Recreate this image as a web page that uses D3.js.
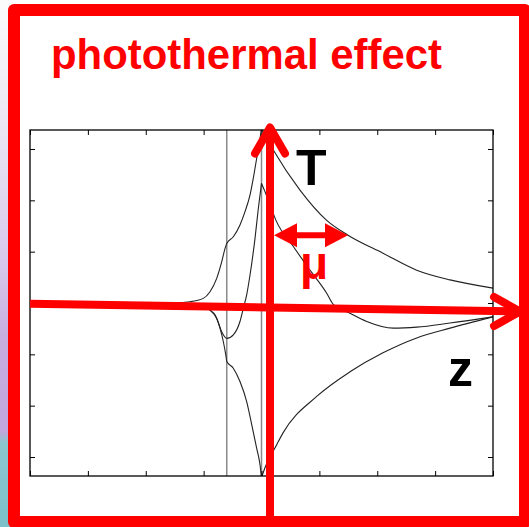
<!DOCTYPE html>
<html>
<head>
<meta charset="utf-8">
<script src="https://cdn.jsdelivr.net/npm/d3@7"></script>
<style>
  html, body { margin: 0; padding: 0; background: #ffffff; }
  svg { display: block; }
</style>
</head>
<body>
<svg id="chart" width="529" height="527"></svg>
<script>
// Temperature profile T(z) across the absorbing layer: envelope maximum,
// envelope minimum and one instantaneous snapshot of the thermal wave.
const xTicks = [-4, -3, -2, -1, 0, 1, 2, 3, 4];
const yTicks = [-3, -2, -1, 0, 1, 2, 3];
const interfaces = [-0.6, 0.0];

// envelope maximum
const upperLeft = [
  [-4, 0], [-2, 0], [-1.5, 0.005], [-1.235, 0.025], [-1.006, 0.09], [-0.89, 0.22],
  [-0.774, 0.48], [-0.688, 0.80], [-0.631, 1.06], [-0.60, 1.16], [-0.487, 1.29],
  [-0.372, 1.52], [-0.285, 1.78], [-0.199, 2.10], [-0.142, 2.43], [-0.083, 2.82],
  [-0.026, 3.20], [0.0, 3.40]
];
const upperRight = [
  [0.0, 3.40], [0.204, 2.98], [0.665, 2.20], [1.127, 1.61], [1.495, 1.32],
  [2.099, 0.97], [2.682, 0.64], [3.257, 0.45], [4.0, 0.29]
];
// envelope minimum
const lowerLeft = [
  [-4, 0], [-2, 0], [-1.5, -0.005], [-1.063, -0.04], [-0.89, -0.14], [-0.803, -0.23],
  [-0.717, -0.49], [-0.66, -0.75], [-0.613, -1.04], [-0.60, -1.14], [-0.487, -1.27],
  [-0.372, -1.53], [-0.256, -1.92], [-0.169, -2.37], [-0.083, -2.83], [-0.026, -3.15],
  [0.0, -3.40]
];
const lowerRight = [
  [0.0, -3.40], [0.06, -3.21], [0.263, -2.76], [0.372, -2.53], [0.954, -1.82],
  [1.529, -1.34], [2.099, -0.97], [2.682, -0.68], [3.257, -0.49], [4.0, -0.27]
];
// snapshot of the thermal wave
const middleLeft = [
  [-4, 0], [-2, 0], [-1.5, -0.005], [-1.063, -0.04], [-0.89, -0.14], [-0.774, -0.30],
  [-0.688, -0.56], [-0.60, -0.69], [-0.487, -0.62], [-0.372, -0.36], [-0.314, -0.10],
  [-0.256, 0.16], [-0.199, 0.54], [-0.112, 1.26], [-0.055, 1.84], [0.0, 2.33]
];
const middleRight = [
  [0.0, 2.33], [0.06, 2.17], [0.147, 1.91], [0.25, 1.61], [0.55, 1.10], [0.838, 0.64],
  [1.127, 0.19], [1.235, -0.02], [1.529, -0.20], [1.818, -0.36], [2.277, -0.49],
  [2.682, -0.47], [3.257, -0.39], [4.0, -0.27]
];

// annotation arrows, in data units
const zAxisArrow = { x0: -4, y0: -0.014, x1: 4.467, y1: -0.165 };
const tAxisArrow = { x: 0.147, y0: -4.5, y1: 3.42 };
const muArrow = { x0: 0.216, x1: 1.495, y: 1.32 };

const svg = d3.select("#chart");
const W = 529, H = 527;

// page background strip and frame
const defs = svg.append("defs");
const grad = defs.append("linearGradient").attr("id", "bg")
  .attr("x1", 0).attr("y1", 0).attr("x2", 0).attr("y2", 1);
[[0, "#fbfbfc"], [0.2, "#eeeaf4"], [0.5, "#d8c8ec"], [0.65, "#c6acdf"],
 [0.82, "#c0a6dc"], [0.84, "#8cc6cf"], [1, "#7cc0c9"]].forEach(([o, c]) =>
  grad.append("stop").attr("offset", o).attr("stop-color", c));
svg.append("rect").attr("x", 0).attr("y", 0).attr("width", W).attr("height", H).attr("fill", "#ffffff");
svg.append("rect").attr("x", 0).attr("y", 0).attr("width", 12).attr("height", H).attr("fill", "url(#bg)");
svg.append("rect").attr("x", 14).attr("y", 10).attr("width", 511).attr("height", 512)
  .attr("fill", "#ffffff").attr("stroke", "#ff0000").attr("stroke-width", 12)
  .attr("stroke-linejoin", "round");

// title
svg.append("text").attr("x", 51).attr("y", 69)
  .attr("font-family", "'Liberation Sans', Arial, sans-serif")
  .attr("font-weight", "bold").attr("font-size", 42).attr("fill", "#ff0000")
  .attr("textLength", 391).attr("lengthAdjust", "spacingAndGlyphs")
  .text("photothermal effect");

// plot area
const pLeft = 30, pRight = 493, pTop = 130, pBottom = 476;
const x = d3.scaleLinear().domain([-4, 4]).range([pLeft, pRight]);
const y = d3.scaleLinear().domain([-3.37, 3.37]).range([pBottom, pTop]);

defs.append("clipPath").attr("id", "plotclip").append("rect")
  .attr("x", pLeft).attr("y", pTop).attr("width", pRight - pLeft).attr("height", pBottom - pTop);

const plot = svg.append("g").attr("clip-path", "url(#plotclip)");
const line = d3.line().x(d => x(d[0])).y(d => y(d[1])).curve(d3.curveMonotoneX);

plot.selectAll("line.iface").data(interfaces).join("line")
  .attr("class", "iface")
  .attr("x1", d => x(d)).attr("x2", d => x(d))
  .attr("y1", pTop).attr("y2", pBottom)
  .attr("stroke", "#8a8a8a").attr("stroke-width", 1.5);

[upperLeft, upperRight, lowerLeft, lowerRight, middleLeft, middleRight].forEach(seg =>
  plot.append("path").attr("d", line(seg))
    .attr("fill", "none").attr("stroke", "#222222").attr("stroke-width", 1.1));

// axes with inward ticks on all four sides, no labels
const tick = 5;
svg.append("g").attr("transform", `translate(0,${pTop})`)
  .call(d3.axisTop(x).tickValues(xTicks).tickSizeInner(-tick).tickSizeOuter(0).tickFormat(""));
svg.append("g").attr("transform", `translate(0,${pBottom})`)
  .call(d3.axisBottom(x).tickValues(xTicks).tickSizeInner(-tick).tickSizeOuter(0).tickFormat(""));
svg.append("g").attr("transform", `translate(${pLeft},0)`)
  .call(d3.axisLeft(y).tickValues(yTicks).tickSizeInner(-tick).tickSizeOuter(0).tickFormat(""));
svg.append("g").attr("transform", `translate(${pRight},0)`)
  .call(d3.axisRight(y).tickValues(yTicks).tickSizeInner(-tick).tickSizeOuter(0).tickFormat(""));
svg.selectAll(".domain").remove();
svg.selectAll(".tick line").attr("stroke", "#000").attr("stroke-width", 1);
svg.append("rect").attr("x", pLeft).attr("y", pTop).attr("width", pRight - pLeft).attr("height", pBottom - pTop)
  .attr("fill", "none").attr("stroke", "#000").attr("stroke-width", 1.3);

// red annotations
const red = "#ff0000";
const ann = svg.append("g");
// z axis
ann.append("line")
  .attr("x1", x(zAxisArrow.x0)).attr("y1", y(zAxisArrow.y0))
  .attr("x2", x(zAxisArrow.x1)).attr("y2", y(zAxisArrow.y1))
  .attr("stroke", red).attr("stroke-width", 8);
{
  const tx = x(zAxisArrow.x1), ty = y(zAxisArrow.y1);
  ann.append("path")
    .attr("d", `M${tx - 26},${ty - 14.5}L${tx},${ty}L${tx - 26},${ty + 14.5}`)
    .attr("fill", "none").attr("stroke", red).attr("stroke-width", 8)
    .attr("stroke-linecap", "round").attr("stroke-linejoin", "round");
}
// T axis
ann.append("line")
  .attr("x1", x(tAxisArrow.x)).attr("y1", y(tAxisArrow.y0))
  .attr("x2", x(tAxisArrow.x)).attr("y2", y(tAxisArrow.y1))
  .attr("stroke", red).attr("stroke-width", 8);
{
  const tx = x(tAxisArrow.x), ty = y(tAxisArrow.y1);
  ann.append("path")
    .attr("d", `M${tx - 15},${ty + 26}L${tx},${ty}L${tx + 15},${ty + 26}`)
    .attr("fill", "none").attr("stroke", red).attr("stroke-width", 8)
    .attr("stroke-linecap", "round").attr("stroke-linejoin", "round");
}
// decay length mu
{
  const xa = x(muArrow.x0), xb = x(muArrow.x1), yy = y(muArrow.y);
  const hl = 23, hw = 12;
  ann.append("line").attr("x1", xa + hl - 2).attr("x2", xb - hl + 2).attr("y1", yy).attr("y2", yy)
    .attr("stroke", red).attr("stroke-width", 6);
  ann.append("path").attr("d", `M${xa},${yy}L${xa + hl},${yy - hw}L${xa + hl},${yy + hw}Z`).attr("fill", red);
  ann.append("path").attr("d", `M${xb},${yy}L${xb - hl},${yy - hw}L${xb - hl},${yy + hw}Z`).attr("fill", red);
  ann.append("text").attr("x", (xa + xb) / 2 + 3).attr("y", 279)
    .attr("text-anchor", "middle")
    .attr("font-family", "'Liberation Sans', Arial, sans-serif")
    .attr("font-weight", "bold")
    .attr("font-size", 46).attr("fill", red).text("μ");
}

// axis letters
svg.append("text").attr("x", 296).attr("y", 185)
  .attr("font-family", "'Liberation Sans', Arial, sans-serif")
  .attr("font-weight", "bold").attr("font-size", 50).attr("fill", "#000").text("T");
svg.append("text").attr("x", 448).attr("y", 386)
  .attr("font-family", "'Liberation Sans', Arial, sans-serif")
  .attr("font-weight", "bold").attr("font-size", 50).attr("fill", "#000").text("z");
</script>
</body>
</html>
